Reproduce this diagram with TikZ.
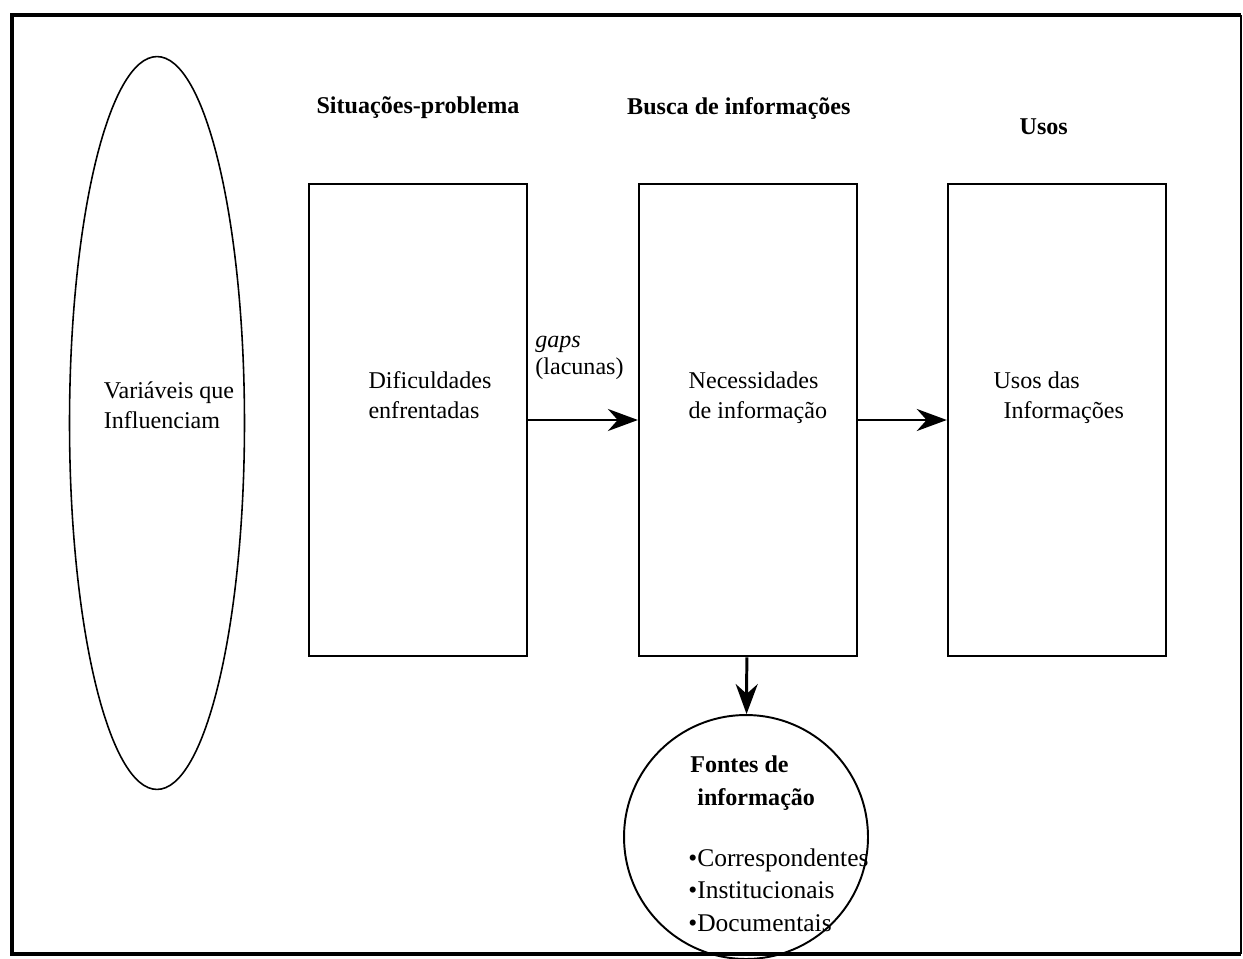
\documentclass[tikz,border=0pt]{standalone}
\usepackage{fontspec}
\setmainfont{Liberation Serif}
\usepackage{tikz}
\usetikzlibrary{positioning, shapes.geometric, arrows.meta}
\tikzstyle{caixa} = [rectangle, minimum width=4.36cm, minimum height=9.46cm, inner sep=0pt, draw=black, line width=1.1pt]
\tikzstyle{titulo} = [font=\fontsize{13.7}{19}\selectfont\bfseries, inner sep=0pt]
\tikzstyle{texto} = [font=\fontsize{13.7}{17}\selectfont, align=left, inner sep=0pt]
\tikzstyle{lista} = [font=\fontsize{14.5}{18.7}\selectfont, align=left, inner sep=0pt]
\tikzstyle{arrow} = [line width=1.7pt, -{Stealth[length=6mm,width=4.4mm]}]

\begin{document}
\begin{tikzpicture}[x=0.02cm, y=-0.02cm, node distance=2cm]
\useasboundingbox (0,0) rectangle (1243,959);

\coordinate (mA) at (12,15);
\coordinate (mB) at (1241,15);
\coordinate (mC) at (1241,954);
\coordinate (mD) at (12,954);
\draw [line width=2.6pt] (mB) -- (mA) -- (mD) -- (mC);
\draw [line width=0.7pt] (mB) -- (mC);

\node (variaveis) [ellipse, draw=black, line width=0.9pt, minimum width=3.5cm, minimum height=14.66cm, inner sep=0pt] at (157,423) {};
\node (variaveisTxt) [texto] at (169,405) {Variáveis que\\Influenciam};

\node (dific) [caixa] at (418,420) {};
\node (necess) [caixa, right=2.2cm of dific] {};
\node (usos) [caixa, right=1.78cm of necess] {};

\node (dificTxt) [texto, xshift=0.24cm, yshift=0.5cm] at (dific) {Dificuldades\\enfrentadas};
\node (necessTxt) [texto, xshift=0.2cm, yshift=0.44cm] at (necess) {Necessidades\\de informação};
\node (usosTxt) [texto, xshift=0.04cm, yshift=0.44cm] at (usos) {Usos das\\\hspace*{0.2cm}Informações};

\node (sitTit) [titulo, above=1.28cm of dific] {Situações-problema};
\node (buscaTit) [titulo, above=1.25cm of necess, xshift=-0.18cm] {Busca de informações};
\node (usosTit) [titulo, above=0.95cm of usos, xshift=-0.26cm] {Usos};

\node (lacunas) [texto, anchor=west] at (535,358) {\textit{gaps}\\[-2pt](lacunas)};

\node (fontes) [circle, draw=black, line width=1.1pt, minimum size=4.88cm, inner sep=0pt] at (746,837) {};
\node (fontesTit) [titulo, align=left, anchor=north west] at (690,755) {Fontes de\\\hspace*{0.14cm}informação};
\node (fontesLista) [lista, anchor=north west] at (688,848) {•Correspondentes\\•Institucionais\\•Documentais};

\draw [arrow] (dific) -- (necess);
\draw [arrow] (necess) -- (usos);
\draw [arrow] (necess) -- (fontes);

\end{tikzpicture}
\end{document}
